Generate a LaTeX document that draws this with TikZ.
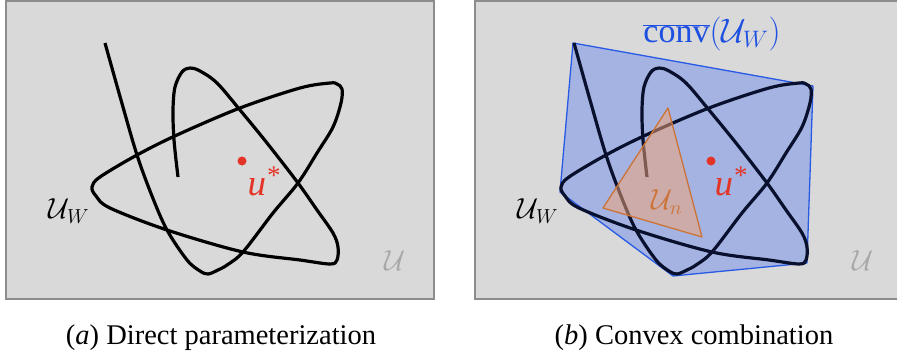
\RequirePackage{fix-cm}
\documentclass[tikz,border=0pt]{standalone}
\usepackage{fontspec}
\setmainfont{Liberation Serif}
\definecolor{bggray}{RGB}{217,217,217}
\definecolor{framegray}{RGB}{140,140,140}
\definecolor{curvenavy}{RGB}{8,16,45}
\definecolor{hullblue}{RGB}{40,90,230}
\definecolor{hullfill}{RGB}{113,143,233}
\definecolor{ustar}{RGB}{228,52,40}
\definecolor{triedge}{RGB}{205,115,55}
\definecolor{trifill}{RGB}{245,165,115}
\definecolor{lightU}{RGB}{168,168,168}
\definecolor{convblue}{RGB}{30,80,225}
\tikzset{
  panel/.style={fill=bggray, draw=framegray, line width=1.5pt},
  curve/.style={line width=3.2pt, line join=round},
  mathlabel/.style={inner sep=0pt, font=\fontsize{29}{34}\selectfont},
  starlabel/.style={inner sep=0pt, text=ustar, font=\fontsize{37}{40}\selectfont},
  convlabel/.style={inner sep=0pt, text=convblue, font=\fontsize{34}{40}\selectfont},
  caption/.style={inner sep=0pt, font=\fontsize{28.5}{34}\selectfont, anchor=base},
  hull/.style={draw=hullblue, line width=1.3pt, fill=hullfill, fill opacity=0.5, line join=round},
  simplex/.style={draw=triedge, line width=1.3pt, fill=trifill, fill opacity=0.5, line join=round},
  optdot/.style={circle, fill=ustar, inner sep=0pt, minimum size=9pt},
}
\newcommand{\drawcurve}[1]{%
  \draw[curve,#1] plot[smooth, tension=0.55] coordinates {
    (105,43) (121,100) (137,155) (152,196) (167,230) (187,260) (200,271) (208,274)
    (218,270) (227,265) (243,252) (273,213) (298,183) (317,153) (333,127) (341,103)
    (342,89) (337,84) (330,83) (300,88) (240,108) (177,135) (137,155) (100,177)
    (92,187) (96,196) (110,208) (167,230) (243,252) (300,260) (330,264) (337,260)
    (338,247) (333,233) (317,210) (298,183) (267,143) (240,110) (217,83) (200,71)
    (190,68) (182,72) (175,87) (173,110) (174,140) (178,177)};}
\newcommand{\ustarsym}{\textit{u}\kern1pt\raisebox{0.3em}{\fontsize{27}{30}\selectfont *}}
\begin{document}
\begin{tikzpicture}[x=1pt,y=-1pt]
\useasboundingbox (0,0) rectangle (897,353);
% ---- panel (a)
\path[panel] (6,1) rectangle (434,299);
\drawcurve{black}
\node[optdot] (dotA) at (242,161) {};
\node[starlabel] (ustarA) at (264,181) {\ustarsym};
\node[mathlabel] (UWA) at (69,211) {$\mathcal{U}_W$};
\node[mathlabel, text=lightU] (UA) at (395,261) {$\mathcal{U}$};
\node[caption] (capA) at (221,344) {(\textit{a}) Direct parameterization};
% ---- panel (b)
\path[panel] (475,1) rectangle (906,299);
\coordinate (h1) at (573,43);
\coordinate (h2) at (813,86);
\coordinate (h3) at (807,263);
\coordinate (h4) at (673,276);
\coordinate (h5) at (560,192);
\path[hull] (h1) -- (h2) -- (h3) -- (h4) -- (h5) -- cycle;
\begin{scope}[xshift=469pt]
\drawcurve{curvenavy}
\end{scope}
\coordinate (t1) at (668,108);
\coordinate (t2) at (603,208);
\coordinate (t3) at (702,237);
\path[simplex] (t1) -- (t2) -- (t3) -- cycle;
\node[mathlabel, text=triedge] (Un) at (667,202) {$\mathcal{U}_n$};
\node[optdot] (dotB) at (711,161) {};
\node[starlabel] (ustarB) at (731,181) {\ustarsym};
\node[mathlabel] (UWB) at (538,211) {$\mathcal{U}_W$};
\node[mathlabel, text=lightU] (UB) at (863,261) {$\mathcal{U}$};
\node[convlabel] (conv) at (712,34) {$\overline{\hbox{conv}}(\mathcal{U}_W)$};
\node[caption] (capB) at (694,344) {(\textit{b}) Convex combination};
\end{tikzpicture}
\end{document}
